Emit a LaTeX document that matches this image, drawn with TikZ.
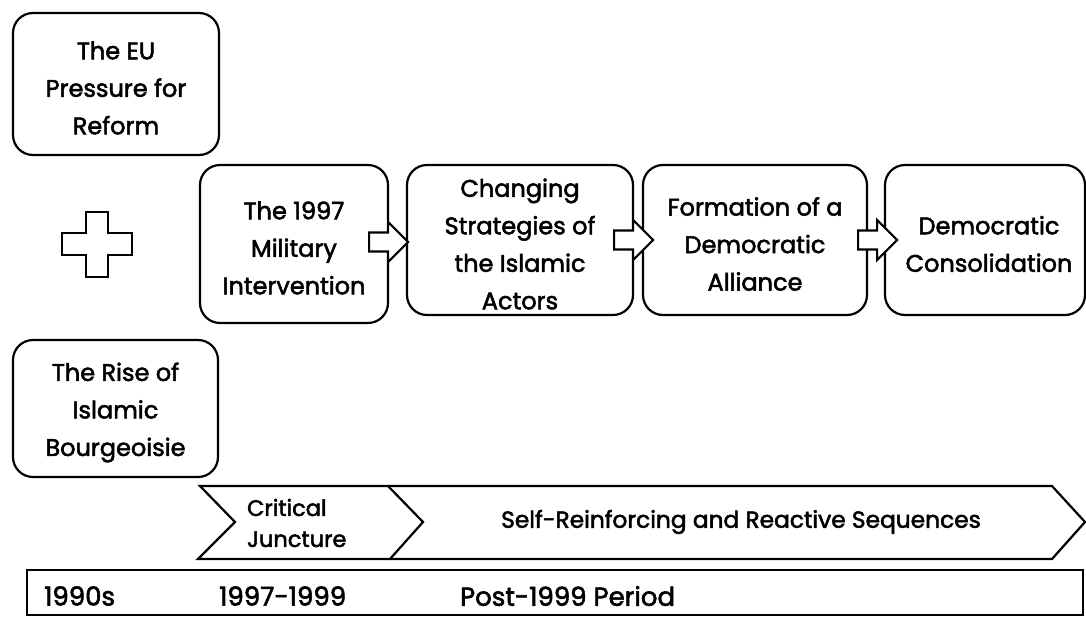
\documentclass[tikz,border=0pt]{standalone}
\usepackage{fontspec}
\setmainfont{Poppins}[FakeBold=2.2]
\usetikzlibrary{calc}
\begin{document}
\begin{tikzpicture}[x=1pt,y=-1pt, line width=2.2pt,
  box/.style={draw, rounded corners=20pt, inner sep=0pt},
  btext/.style={align=center, inner sep=0pt, yshift=-4pt,
    font=\fontsize{24}{37.5}\selectfont},
  lbl/.style={inner sep=0pt, font=\fontsize{22.5}{31}\selectfont},
  tl/.style={inner sep=0pt, anchor=west, font=\fontsize{26}{30}\selectfont},
  blockarrow/.pic={\draw[fill=white] (-20,-9.5) -- (-1,-9.5) -- (-1,-20) -- (19,0)
      -- (-1,20) -- (-1,9.5) -- (-20,9.5) -- cycle;}]
\useasboundingbox (0,0) rectangle (1086,616);
% boxes
\node[box, minimum width=206pt, minimum height=142pt,
  label={[btext]center:{The EU\\Pressure for\\Reform}}] (eu) at (116,84) {};
\node[box, minimum width=205pt, minimum height=137pt,
  label={[btext]center:{The Rise of\\Islamic\\Bourgeoisie}}] (rise) at (115.5,408.5) {};
\node[box, minimum width=188pt, minimum height=158pt,
  label={[btext]center:{The 1997\\Military\\Intervention}}] (mil) at (294,244) {};
\node[box, minimum width=226pt, minimum height=150pt,
  label={[btext]center:{Changing\\Strategies of\\the Islamic\\Actors}}] (chg) at (520,240) {};
\node[box, minimum width=224pt, minimum height=150pt,
  label={[btext]center:{Formation of a\\Democratic\\Alliance}}] (form) at (755,240) {};
\node[box, minimum width=200pt, minimum height=150pt,
  label={[btext, xshift=4pt]center:{Democratic\\Consolidation}}] (cons) at (985,240) {};
% block arrows between the boxes
\coordinate (a1) at ($(mil.east)+(0,-2)$);
\coordinate (a2) at ($(chg.east)+(0,0)$);
\coordinate (a3) at ($(form.east)+(10,0)$);
\pic at (a1) {blockarrow};
\pic at (a2) {blockarrow};
\pic at (a3) {blockarrow};
% plus sign
\draw (86,212) -- (108,212) -- (108,233) -- (132,233) -- (132,255) -- (108,255)
  -- (108,277) -- (86,277) -- (86,255) -- (62,255) -- (62,233) -- (86,233) -- cycle;
% chevrons
\draw (200,486) -- (388,486) -- (423,522) -- (390,559) -- (198,559) -- (235,522) -- cycle;
\draw (388,486) -- (1052,486) -- (1085,522) -- (1052,559) -- (390,559);
\node[lbl, anchor=west, align=left] (cj) at (246,523) {Critical\\Juncture};
\node[lbl, font=\fontsize{23.3}{31}\selectfont] (srs) at (741,522) {Self-Reinforcing and Reactive Sequences};
% timeline bar
\draw (27,570) rectangle (1083,615);
\node[tl] (t1) at (43,596) {1990s};
\node[tl] (t2) at (218,596) {1997-1999};
\node[tl] (t3) at (459,596) {Post-1999 Period};
\end{tikzpicture}
\end{document}
